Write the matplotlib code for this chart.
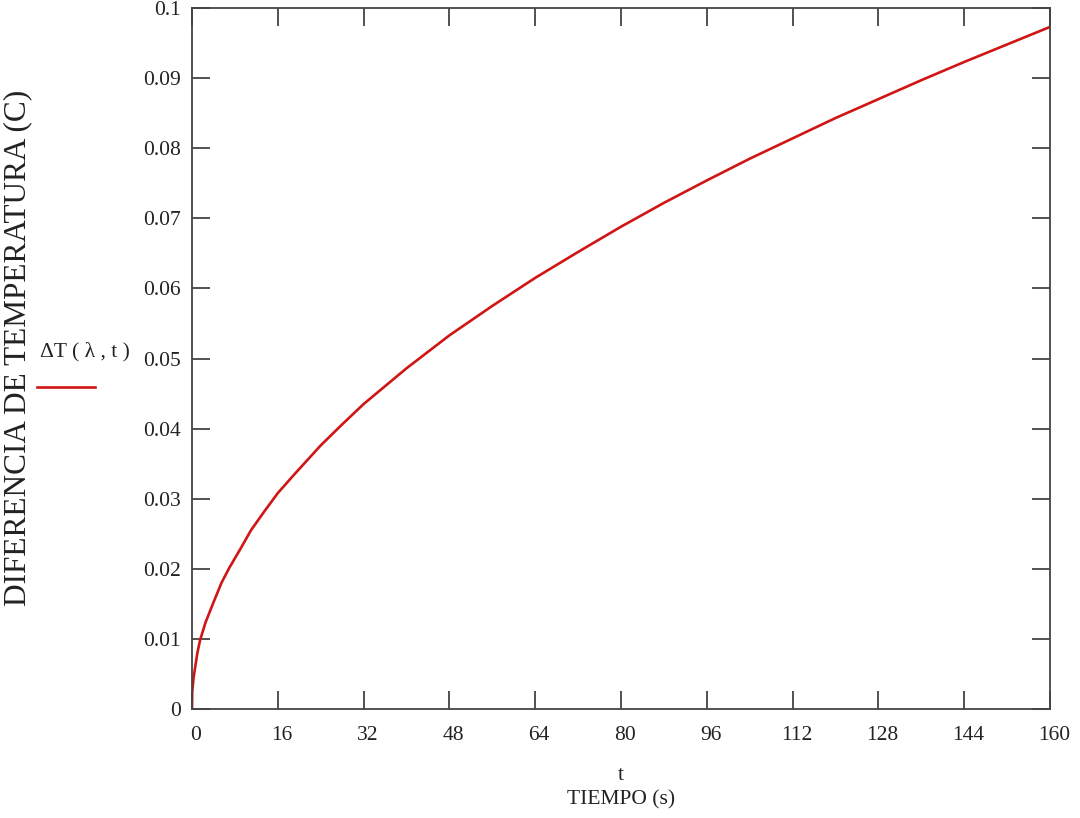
import numpy as np
import matplotlib
matplotlib.use('Agg')
import matplotlib.pyplot as plt
import matplotlib.transforms as mtransforms
from matplotlib.lines import Line2D

# tiempo (s) y diferencia de temperatura (C)
t = [0, 0.05, 0.3, 1, 1.5, 2.5, 4, 5.5, 7, 9, 11, 13.5, 16, 19, 24, 28, 32,
     40, 48, 56, 64, 72, 80, 88, 96, 104, 112, 120, 128, 136, 144, 152, 160]
dT = [0, 0.0025, 0.0045, 0.008, 0.0098, 0.0123, 0.0152, 0.0180, 0.0202,
      0.0228, 0.0255, 0.0282, 0.0308, 0.0334, 0.0376, 0.0406, 0.0435,
      0.0486, 0.0533, 0.0575, 0.0615, 0.0652, 0.0688, 0.0722, 0.0754,
      0.0785, 0.0814, 0.0843, 0.0870, 0.0897, 0.0923, 0.0948, 0.0973]

xticks = list(range(0, 161, 16))
yticks = [i / 100 for i in range(11)]
ylabels = ['0'] + ['%g' % v for v in yticks[1:]]

plt.rcParams['font.family'] = ['Liberation Serif', 'DejaVu Serif']

fig = plt.figure(figsize=(10.8, 8.18), dpi=100)
ax = fig.add_axes([192 / 1080, 1 - 709 / 818, (1050 - 192) / 1080, (709 - 8) / 818])

red = '#d01515'
ax.plot(t, dT, color=red, lw=1.9)

ax.set_xlim(0, 160)
ax.set_ylim(0, 0.1)
ax.set_xticks(xticks)
ax.set_yticks(yticks)
ax.set_yticklabels(ylabels)
ax.tick_params(direction='in', length=13, width=1.2, color='#333333',
               top=True, right=True, labelsize=15.5, labelcolor='#222222')
ax.tick_params(axis='x', pad=12)
ax.tick_params(axis='y', pad=8)
shift = mtransforms.ScaledTranslation(4 / 100, 0, fig.dpi_scale_trans)
for lab in ax.get_xticklabels():
    lab.set_transform(lab.get_transform() + shift)
for s in ax.spines.values():
    s.set_color('#444444')
    s.set_linewidth(1.3)

fig.text(621 / 1080, 1 - 775 / 818, 't', ha='center', va='center',
         fontsize=15.5, color='#222222')
fig.text(621 / 1080, 1 - 800 / 818, 'TIEMPO (s)', ha='center', va='center',
         fontsize=15.5, color='#222222')
fig.text(18 / 1080, 1 - 348 / 818, 'DIFERENCIA DE TEMPERATURA (C)', rotation=90,
         ha='center', va='center', fontsize=22.5, color='#222222')

# leyenda estilo Mathcad
fig.text(40 / 1080, 1 - 352 / 818, '\u0394T ( \u03bb , t )', ha='left', va='center',
         fontsize=15.5, color='#222222')
fig.add_artist(Line2D([37 / 1080, 95 / 1080], [1 - 387 / 818, 1 - 387 / 818],
                      color=red, lw=1.9, transform=fig.transFigure))

fig.savefig('out.png', dpi=100)
